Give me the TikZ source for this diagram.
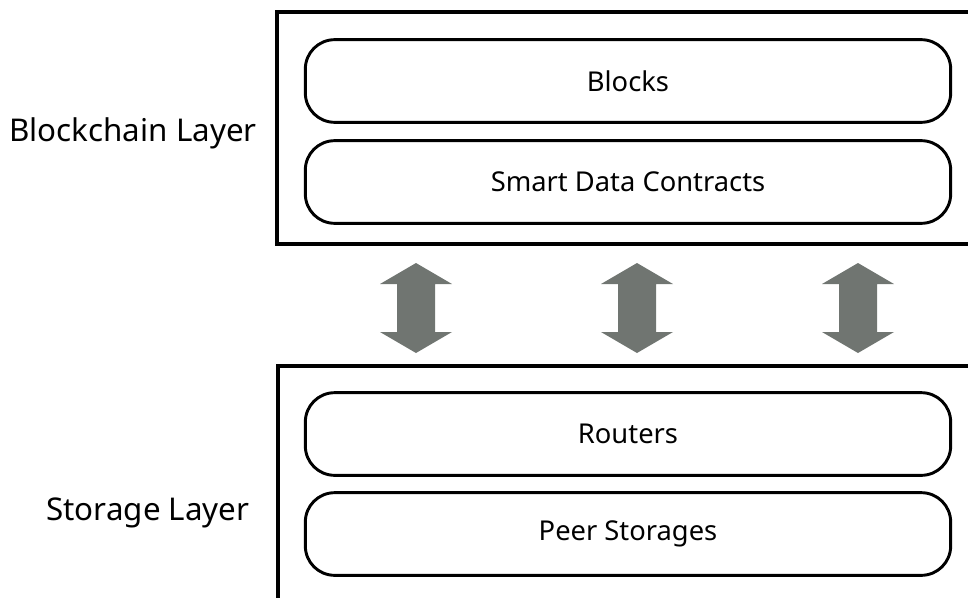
\documentclass[tikz,border=0pt]{standalone}
\usepackage{fontspec}
\setmainfont{Noto Sans}
\usetikzlibrary{positioning}
\definecolor{arrowgray}{RGB}{112,117,113}
\tikzset{
    layer/.style={draw=black, line width=3pt},
    part/.style={draw=black, line width=2.2pt, rounded corners=22pt,
        minimum width=484pt, minimum height=62pt, inner sep=0pt,
        font=\fontsize{20.5}{24}\selectfont},
    layername/.style={font=\fontsize{23.5}{28}\selectfont},
    updown/.style={fill=arrowgray, draw=none},
}

\begin{document}
\begin{tikzpicture}[x=0.75pt, y=-0.75pt]
	\useasboundingbox (0,0) rectangle (968,597);
	\begin{scope}
		\clip (0,0) rectangle (968,597);
		\draw[layer] (277,12) rectangle (990,244);
		\draw[layer] (278,366) rectangle (990,620);
	\end{scope}
		\node[part] (blocks) at (628,81) {Blocks};
		\node[part] (contracts) at (628,182) {Smart Data Contracts};
		\node[part] (routers) at (628,434) {Routers};
		\node[part] (peers) at (628,534) {Peer Storages};
		\node[layername] (chain) at (133,133) {Blockchain Layer};
		\node[layername] (storage) at (148,513) {Storage Layer};
	% double arrows between the layers
	\foreach \x in {416,637,858}
		\fill[updown] (\x,263) -- (\x+36,284) -- (\x+19,284) -- (\x+19,332)
			-- (\x+36,332) -- (\x,353) -- (\x-36,332) -- (\x-19,332)
			-- (\x-19,284) -- (\x-36,284) -- cycle;
\end{tikzpicture}
\end{document}
